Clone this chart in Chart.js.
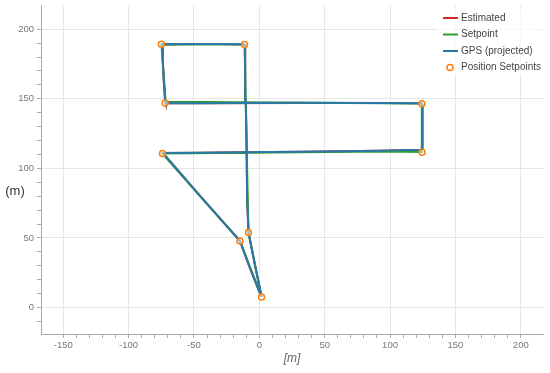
<!DOCTYPE html>
<html>
<head>
<meta charset="utf-8">
<script src="https://cdn.jsdelivr.net/npm/chart.js@4.4.1/dist/chart.umd.min.js"></script>
<style>
  html, body { margin: 0; padding: 0; background: #fff; }
</style>
</head>
<body>
<canvas id="trackChart" width="550" height="373"></canvas>
<script>
// trajetória (metros)
const gpsX = [1.7, -3.2, -8.3, -9.3, -9.8, -10.3, -10.8, -12.3, -29.8, -52.6, -73.9, -73.9, -73.1, -72.1, -71.6, -45.0, 31.0, 91.8, 123.0, 124.5, 124.8, 124.9, 123.0, 91.8, 31.0, -14.6, -45.0, -73.1, -71.6, -45.0, -14.8, -7.0, 1.4];
const gpsY = [7.8, 30.3, 53.9, 77.1, 120.1, 148.9, 188.7, 189.1, 189.4, 189.4, 189.1, 178.0, 163.2, 148.2, 146.8, 146.8, 147.1, 146.9, 146.8, 146.0, 127.3, 113.7, 113.3, 112.6, 111.9, 111.5, 111.3, 111.0, 108.7, 79.9, 47.8, 28.2, 8.1];

const estX = [1.6, -3.3, -8.2, -9.3, -9.8, -10.4, -10.8, -12.4, -29.8, -52.7, -73.8, -73.9, -73.1, -72.0, -71.6, -45.0, 31.0, 91.8, 123.1, 124.5, 124.8, 124.8, 123.0, 91.8, 31.0, -14.6, -45.0, -73.0, -71.6, -45.1, -14.8, -7.1, 1.4];
const estY = [7.9, 30.2, 53.8, 77.1, 120.1, 148.9, 188.6, 189.0, 189.4, 189.4, 189.0, 178.0, 163.2, 148.3, 146.8, 146.8, 147.0, 146.9, 146.8, 146.1, 127.3, 113.7, 113.3, 112.6, 111.9, 111.5, 111.3, 111.0, 108.7, 79.9, 47.9, 28.2, 8.1];

const spPathX = [1.7, -8.3, -11.3, -74.9, -71.6, 124.3, 124.3, 96.0, -74.1, -14.8, 1.7];
const spPathY = [7.6, 53.9, 188.9, 189.1, 147.8, 146.6, 111.7, 112.2, 110.6, 47.8, 7.6];

const setpointX = [1.7, -8.3, -14.8, -74.1, 124.5, 124.3, -72.1, -74.9, -11.3];
const setpointY = [7.6, 53.9, 47.8, 110.6, 111.6, 146.5, 146.9, 189.1, 188.9];

const seriesNames = ['Estimated', 'Setpoint', 'GPS (projected)', 'Position Setpoints'];

const toPts = (xs, ys) => xs.map((x, i) => ({ x: x, y: ys[i] }));
const isMajor = v => Math.abs(v % 50) < 1e-6;
const isMinor = v => Math.abs(v % 10) < 1e-6;

// legenda desenhada dentro da área do gráfico, canto superior direito
const legendaInterna = {
    id: 'legendaInterna',
    afterDraw(chart) {
        const c = chart.ctx;
        c.save();
        c.fillStyle = 'rgba(255,255,255,0.7)';
        c.fillRect(437, 9, 104, 67);
        c.font = '10px "Liberation Sans", Arial, sans-serif';
        c.textBaseline = 'middle';
        chart.data.datasets.forEach((ds, i) => {
            const y = 18 + i * 16.5;
            if (ds.showLine) {
                c.strokeStyle = ds.borderColor;
                c.lineWidth = 2;
                c.beginPath();
                c.moveTo(443, y);
                c.lineTo(458, y);
                c.stroke();
            } else {
                c.strokeStyle = ds.borderColor;
                c.lineWidth = 1.5;
                c.beginPath();
                c.arc(450, y, 3, 0, Math.PI * 2);
                c.stroke();
            }
            c.fillStyle = '#444';
            c.fillText(ds.label, 461, y);
        });
        // rótulo do eixo y, na horizontal
        c.font = '13px "Liberation Sans", Arial, sans-serif';
        c.fillStyle = '#333';
        c.textAlign = 'center';
        c.fillText('(m)', 15, 191);
        c.restore();
    }
};

const axisStyle = (min, max) => ({
    type: 'linear',
    min: min,
    max: max,
    border: { color: '#aaa' },
    grid: {
        color: ctx => (ctx.tick && isMajor(ctx.tick.value)) ? '#e6e6e6' : 'rgba(0,0,0,0)',
        tickColor: ctx => (ctx.tick && isMinor(ctx.tick.value)) ? '#aaa' : 'rgba(0,0,0,0)',
        tickLength: 4
    },
    ticks: {
        stepSize: 10,
        autoSkip: false,
        maxRotation: 0,
        padding: 2,
        color: '#777',
        font: { family: '"Liberation Sans", Arial, sans-serif', size: 9.5 },
        callback: v => isMajor(v) ? v : ''
    }
});

const xAxis = axisStyle(-167, 217);
xAxis.title = {
    display: true,
    text: '[m]',
    color: '#666',
    font: { family: '"Liberation Sans", Arial, sans-serif', size: 12, style: 'italic' },
    padding: { top: 0, bottom: 7 }
};
xAxis.afterFit = scale => {
    scale.height = 39;
    scale.paddingLeft = 0;
    scale.paddingRight = 0;
};

const yAxis = axisStyle(-19, 217);
yAxis.ticks.padding = 3;
yAxis.afterFit = scale => {
    scale.width = 41;
    scale.paddingTop = 0;
    scale.paddingBottom = 0;
};

const chart = new Chart(document.getElementById('trackChart'), {
    type: 'scatter',
    data: {
        datasets: [{
            label: seriesNames[0],
            data: toPts(estX, estY),
            showLine: true,
            borderColor: '#d62728',
            borderWidth: 2,
            pointRadius: 0,
            order: 3
        },
        {
            label: seriesNames[1],
            data: toPts(spPathX, spPathY),
            showLine: true,
            borderColor: '#2ca02c',
            borderWidth: 2,
            pointRadius: 0,
            order: 2
        },
        {
            label: seriesNames[2],
            data: toPts(gpsX, gpsY),
            showLine: true,
            borderColor: '#2b78a8',
            borderWidth: 2,
            pointRadius: 0,
            order: 1
        },
        {
            label: seriesNames[3],
            data: toPts(setpointX, setpointY),
            showLine: false,
            borderColor: '#ff7f0e',
            backgroundColor: 'rgba(255,255,255,0.5)',
            borderWidth: 1.5,
            pointRadius: 3,
            order: 0
        }]
    },
    options: {
        responsive: false,
        animation: false,
        layout: { padding: { top: 5, right: 7, left: 0, bottom: 0 } },
        plugins: {
            legend: { display: false },
            tooltip: { enabled: false }
        },
        scales: {
            x: xAxis,
            y: yAxis
        }
    },
    plugins: [legendaInterna]
});
</script>
</body>
</html>
